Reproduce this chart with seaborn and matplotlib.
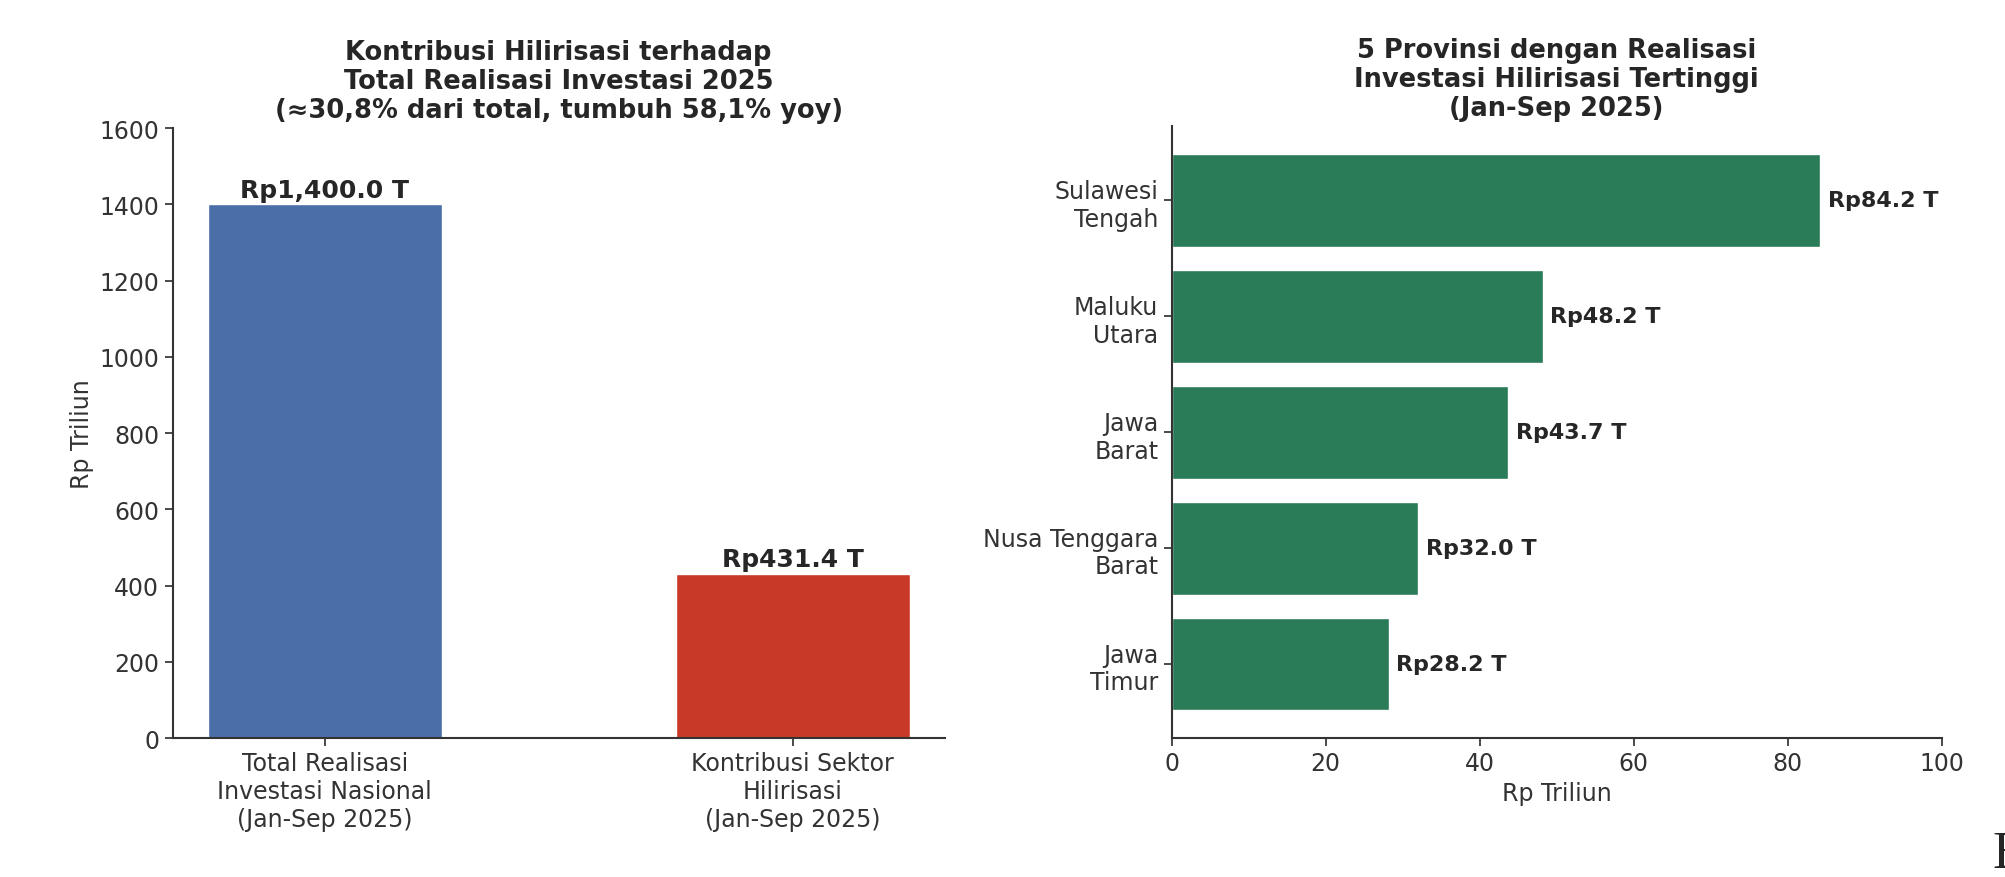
import matplotlib
matplotlib.use("Agg")
import matplotlib.pyplot as plt
import seaborn as sns
import pandas as pd

# ---- data ----
left_categories = [
    "Total Realisasi\nInvestasi Nasional\n(Jan-Sep 2025)",
    "Kontribusi Sektor\nHilirisasi\n(Jan-Sep 2025)",
]
left_values = [1400.0, 431.4]
left_labels = ["Rp1,400.0 T", "Rp431.4 T"]

provinces = [
    "Sulawesi\nTengah",
    "Maluku\nUtara",
    "Jawa\nBarat",
    "Nusa Tenggara\nBarat",
    "Jawa\nTimur",
]
province_values = [84.2, 48.2, 43.7, 32.0, 28.2]
province_labels = ["Rp84.2 T", "Rp48.2 T", "Rp43.7 T", "Rp32.0 T", "Rp28.2 T"]

left_title = "Kontribusi Hilirisasi terhadap\nTotal Realisasi Investasi 2025\n(≈30,8% dari total, tumbuh 58,1% yoy)"
right_title = "5 Provinsi dengan Realisasi\nInvestasi Hilirisasi Tertinggi\n(Jan-Sep 2025)"

sns.set_theme(style="ticks")
plt.rcParams["font.family"] = ["DejaVu Sans"]

fig = plt.figure(figsize=(20.06, 8.78), dpi=100)
ax1 = fig.add_axes([0.086, 0.158, 0.385, 0.695])
ax2 = fig.add_axes([0.584, 0.158, 0.384, 0.697])

TICK = 17

df_left = pd.DataFrame({"cat": left_categories, "val": left_values})
sns.barplot(data=df_left, x="cat", y="val", hue="cat",
            palette=["#4a6fa8", "#c83a27"], width=0.5, legend=False,
            saturation=1, ax=ax1)
ax1.set_xlim(-0.325, 1.325)
ax1.set_ylim(0, 1600)
ax1.set_xlabel("")
ax1.set_ylabel("Rp Triliun", fontsize=17, color="#333333")
ax1.set_title(left_title, fontsize=18.5, fontweight="bold", pad=8, linespacing=1.15)
ax1.tick_params(axis="both", labelsize=TICK, colors="#333333")
for i, (v, lab) in enumerate(zip(left_values, left_labels)):
    ax1.text(i, v + 6, lab, ha="center", va="bottom", fontsize=18, fontweight="bold")

df_right = pd.DataFrame({"prov": provinces, "val": province_values})
sns.barplot(data=df_right, y="prov", x="val", color="#2a7b57", width=0.8,
            saturation=1, orient="h", ax=ax2)
ax2.set_xlim(0, 100)
ax2.set_ylim(4.64, -0.64)
ax2.set_ylabel("")
ax2.set_xlabel("Rp Triliun", fontsize=17, color="#333333")
ax2.set_title(right_title, fontsize=18.5, fontweight="bold", pad=8, linespacing=1.15)
ax2.tick_params(axis="both", labelsize=TICK, colors="#333333")
for i, (v, lab) in enumerate(zip(province_values, province_labels)):
    ax2.text(v + 1.0, i, lab, ha="left", va="center", fontsize=16, fontweight="bold")

for ax in (ax1, ax2):
    sns.despine(ax=ax)
    for s in ("left", "bottom"):
        ax.spines[s].set_color("#333333")
        ax.spines[s].set_linewidth(1.5)

fig.text(1992 / 2006, 1 - 868 / 878, "E", fontsize=38, family="Liberation Serif",
         ha="left", va="baseline")

fig.savefig("out.png", dpi=100)
